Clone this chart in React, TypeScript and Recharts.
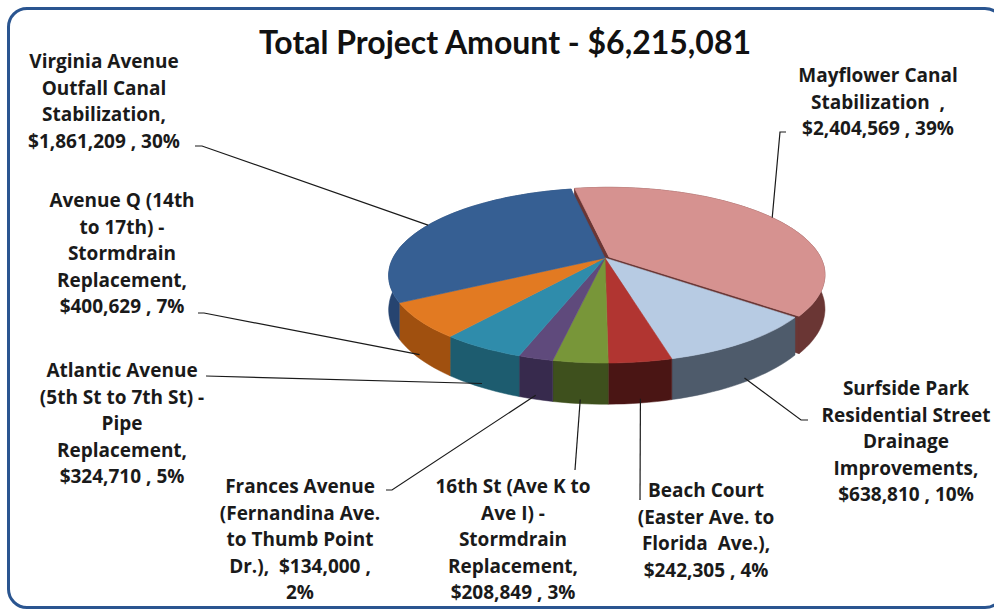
import { PieChart, Pie } from 'recharts';

// slices in clockwise order from the top
const projectNames = [
  'Mayflower Canal Stabilization',
  'Surfside Park Residential Street Drainage Improvements',
  'Beach Court (Easter Ave. to Florida Ave.)',
  '16th St (Ave K to Ave I) - Stormdrain Replacement',
  'Frances Avenue (Fernandina Ave. to Thumb Point Dr.)',
  'Atlantic Avenue (5th St to 7th St) - Pipe Replacement',
  'Avenue Q (14th to 17th) - Stormdrain Replacement',
  'Virginia Avenue Outfall Canal Stabilization',
];
const amounts = [2404569, 638810, 242305, 208849, 134000, 324710, 400629, 1861209];

// data label text as wrapped in the picture
const labelLines = [
  ['Mayflower Canal', 'Stabilization  ,', '$2,404,569 , 39%'],
  ['Surfside Park', 'Residential Street', 'Drainage', 'Improvements,', '$638,810 , 10%'],
  ['Beach Court', '(Easter Ave. to', 'Florida  Ave.),', '$242,305 , 4%'],
  ['16th St (Ave K to', 'Ave I) -', 'Stormdrain', 'Replacement,', '$208,849 , 3%'],
  ['Frances Avenue', '(Fernandina Ave.', 'to Thumb Point', 'Dr.),  $134,000 ,', '2%'],
  ['Atlantic Avenue', '(5th St to 7th St) -', 'Pipe', 'Replacement,', '$324,710 , 5%'],
  ['Avenue Q (14th', 'to 17th) -', 'Stormdrain', 'Replacement,', '$400,629 , 7%'],
  ['Virginia Avenue', 'Outfall Canal', 'Stabilization,', '$1,861,209 , 30%'],
];

const topColors = ['#d69290', '#b7cbe3', '#b13531', '#789639', '#5f4a7c', '#2f8cab', '#e27a22', '#365f93'];
const sideColors = ['#6a3634', '#4e5b6b', '#4a1514', '#3e501d', '#372a4d', '#1d5c6f', '#a0500f', '#264470'];
const explode = [0.022, 0, 0, 0, 0, 0, 0, 0];

// label placement: text centre, first line y, leader start points
const labelLayout = [
  { x: 878, y: 75, path: [[786, 132], [780, 132]] },
  { x: 906, y: 388, path: [[808, 420], [801, 420]] },
  { x: 706, y: 490, path: [[640, 500]] },
  { x: 513, y: 486, path: [[575, 470]] },
  { x: 300, y: 486, path: [[386, 490], [392, 490]] },
  { x: 122, y: 370, path: [[206, 376]] },
  { x: 122, y: 200, path: [[198, 313], [204, 313]] },
  { x: 104, y: 61, path: [[195, 146], [202, 146]] },
];

const rows = projectNames.map((name, i) => ({ name, amount: amounts[i] }));
const total = amounts.reduce((a, b) => a + b, 0);

const TILT = 84 / 212;
const PERSP = 0.2;
const DEPTH = 33;
const LINE_H = 26.5;
const LABEL_FONT = '"Open Sans", Lato, sans-serif';
const TITLE_FONT = 'Lato, "Open Sans", sans-serif';

const rad = (d: number) => (d * Math.PI) / 180;

function project(cx: number, cy: number, r: number, angle: number, rr: number, ox: number, oy: number, drop: number) {
  const u = rr * Math.cos(rad(angle)) + ox;
  const v = rr * Math.sin(rad(angle)) + oy;
  const s = 1 / (1 + PERSP * v);
  return [cx + r * u * s, cy - r * TILT * v * s + drop * DEPTH * s];
}

function geom(p: any) {
  const { cx, cy, outerRadius, startAngle, endAngle, index } = p;
  const mid = (startAngle + endAngle) / 2;
  const e = explode[index] || 0;
  const ox = e * Math.cos(rad(mid));
  const oy = e * Math.sin(rad(mid));
  const n = Math.max(4, Math.ceil(Math.abs(endAngle - startAngle) / 2));
  const arc = (drop: number) => {
    const pts: number[][] = [];
    for (let k = 0; k <= n; k++) {
      const a = startAngle + ((endAngle - startAngle) * k) / n;
      pts.push(project(cx, cy, outerRadius, a, 1, ox, oy, drop));
    }
    return pts;
  };
  const pt = (a: number, rr: number, drop: number) => project(cx, cy, outerRadius, a, rr, ox, oy, drop);
  return { mid, ox, oy, arc, pt };
}

const toPath = (pts: number[][]) => 'M' + pts.map((q) => `${q[0].toFixed(1)},${q[1].toFixed(1)}`).join('L') + 'Z';

function renderSide(p: any) {
  const { startAngle, endAngle, index } = p;
  const g = geom(p);
  const walls: JSX.Element[] = [];
  if (explode[index]) {
    [startAngle, endAngle].forEach((a: number, k: number) => {
      walls.push(
        <path
          key={`w${k}`}
          d={toPath([g.pt(a, 0, 0), g.pt(a, 1, 0), g.pt(a, 1, 1), g.pt(a, 0, 1)])}
          fill={sideColors[index]}
          stroke={sideColors[index]}
          strokeWidth={0.5}
        />
      );
    });
  }
  const rim = [...g.arc(0), ...g.arc(1).reverse()];
  return (
    <g key={`side-${index}`}>
      {walls}
      <path d={toPath(rim)} fill={sideColors[index]} stroke={sideColors[index]} strokeWidth={0.5} />
    </g>
  );
}

function renderTop(p: any) {
  const { index } = p;
  const g = geom(p);
  const pts = [g.pt(0, 0, 0), ...g.arc(0)];
  return (
    <path
      key={`top-${index}`}
      d={toPath(pts)}
      fill={topColors[index]}
      stroke={topColors[index]}
      strokeWidth={0.6}
    />
  );
}

function renderLabel(p: any) {
  const { index } = p;
  const g = geom(p);
  const front = Math.sin(rad(g.mid)) < 0;
  const anchor = g.pt(g.mid, 1, front ? 0.9 : 0);
  const lay = labelLayout[index];
  const line = [...lay.path, anchor];
  return (
    <g key={`lab-${index}`}>
      <polyline
        points={line.map((q) => `${q[0]},${q[1]}`).join(' ')}
        fill="none"
        stroke="#1a1a1a"
        strokeWidth={1.2}
      />
      <text
        textAnchor="middle"
        dominantBaseline="central"
        fontFamily={LABEL_FONT}
        fontWeight={700}
        fontSize={19}
        fill="#1a1a1a"
      >
        {labelLines[index].map((t, i) => (
          <tspan key={i} x={lay.x} y={lay.y + i * LINE_H} style={{ whiteSpace: 'pre' }}>
            {t}
          </tspan>
        ))}
      </text>
    </g>
  );
}

export default function App() {
  const pieProps = {
    data: rows,
    dataKey: 'amount',
    nameKey: 'name',
    cx: 605,
    cy: 258,
    outerRadius: 212,
    startAngle: 101,
    endAngle: -259,
    fill: 'none',
    stroke: 'none',
    labelLine: false,
    isAnimationActive: false,
  };
  return (
    <div style={{ position: 'absolute', left: 0, top: 0, width: 994, height: 610, background: '#fff', overflow: 'hidden' }}>
      <div
        style={{
          position: 'absolute',
          left: 7,
          top: 7,
          width: 992,
          height: 596,
          border: '3px solid #2a5590',
          borderRadius: 20,
        }}
      />
      <div
        style={{
          position: 'absolute',
          left: 16,
          top: 21,
          width: 978,
          textAlign: 'center',
          fontFamily: TITLE_FONT,
          fontWeight: 700,
          fontSize: 32,
          color: '#111',
          lineHeight: '42px',
        }}
      >
        {`Total Project Amount - $${total.toLocaleString('en-US')}`}
      </div>
      <div style={{ position: 'absolute', left: 0, top: 0 }}>
        <PieChart width={994} height={610} margin={{ top: 0, right: 0, bottom: 0, left: 0 }}>
          <Pie {...pieProps} label={renderSide} />
          <Pie {...pieProps} label={renderTop} />
          <Pie {...pieProps} label={renderLabel} />
        </PieChart>
      </div>
    </div>
  );
}
